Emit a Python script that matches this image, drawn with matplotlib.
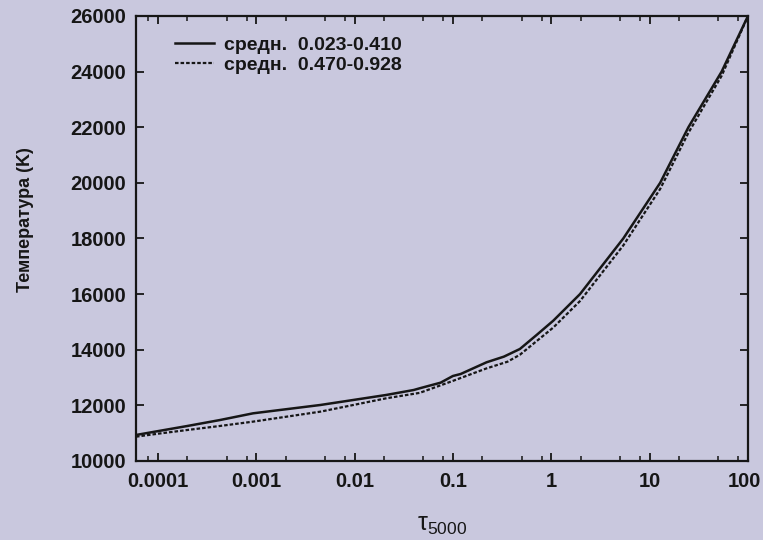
import matplotlib
matplotlib.use("Agg")
import matplotlib.pyplot as plt
from matplotlib.ticker import FixedLocator, NullFormatter
import matplotlib.transforms as mtransforms

# ---- data ----
tau_solid = [6e-5, 1e-4, 2e-4, 4.3e-4, 9.3e-4, 4.5e-3, 0.021, 0.040, 0.046, 0.075,
             0.10, 0.12, 0.22, 0.33, 0.48, 0.71, 1.05, 1.96, 5.4, 12.8, 24.8, 54.0, 100.0]
T_solid = [10935, 11073, 11259, 11474, 11714, 12014, 12374, 12553, 12614, 12816,
           13056, 13128, 13549, 13752, 14027, 14531, 15046, 16000, 18000, 20000,
           22000, 24000, 26000]

tau_dash = [6e-5, 1e-4, 2e-4, 4.3e-4, 9.3e-4, 4.5e-3, 0.021, 0.046, 0.10, 0.22,
            0.36, 0.48, 1.05, 1.96, 5.4, 12.8, 24.8, 54.0, 100.0]
T_dash = [10874, 10980, 11115, 11260, 11415, 11774, 12254, 12450, 12880, 13330,
          13571, 13820, 14800, 15750, 17750, 19780, 21800, 23850, 26000]

label_solid = "средн.  0.023-0.410"
label_dash = "средн.  0.470-0.928"

x_ticks = [1e-4, 1e-3, 1e-2, 1e-1, 1, 10, 100]
x_tick_labels = ["0.0001", "0.001", "0.01", "0.1", "1", "10", "100"]
y_ticks = [10000, 12000, 14000, 16000, 18000, 20000, 22000, 24000, 26000]

# ---- style ----
bg = "#c9c8de"
ink = "#161616"
plt.rcParams['font.family'] = ['Liberation Sans', 'DejaVu Sans']

fig = plt.figure(figsize=(7.63, 5.40), dpi=100, facecolor=bg)
ax = fig.add_axes([0.1782, 0.1463, 0.8021, 0.8241], facecolor=bg)

ax.plot(tau_solid, T_solid, color=ink, lw=1.8, linestyle='-', label=label_solid)
ax.plot(tau_dash, T_dash, color=ink, lw=1.6, linestyle=(0, (1.6, 0.9)), label=label_dash)

ax.set_xscale('log')
ax.set_xlim(6e-5, 100)
ax.set_ylim(10000, 26000)

ax.xaxis.set_major_locator(FixedLocator(x_ticks))
ax.set_xticklabels(x_tick_labels)
minor = []
for d in range(-5, 2):
    for m in (2, 5, 8):
        minor.append(m * 10.0 ** d)
ax.xaxis.set_minor_locator(FixedLocator(minor))
ax.xaxis.set_minor_formatter(NullFormatter())
ax.set_yticks(y_ticks)
ax.set_yticklabels([str(v) for v in y_ticks])

for sp in ax.spines.values():
    sp.set_color(ink)
    sp.set_linewidth(1.6)

ax.tick_params(axis='both', which='major', direction='in', length=6, width=1.3,
               top=True, right=True, colors=ink, labelsize=14.5)
ax.tick_params(axis='both', which='minor', direction='in', length=3.5, width=1.1,
               top=True, right=True, colors=ink)
ax.tick_params(axis='x', which='major', pad=8)
ax.tick_params(axis='y', which='major', pad=7)
for lab in ax.get_xticklabels() + ax.get_yticklabels():
    lab.set_fontweight('bold')

# keep the last x label inside the picture
last = ax.get_xticklabels()[-1]
last.set_transform(last.get_transform() +
                   mtransforms.ScaledTranslation(-4 / 100, 0, fig.dpi_scale_trans))

ax.set_ylabel("Температура (K)", fontsize=13, fontweight='bold', color=ink)
ax.yaxis.set_label_coords(-0.166, 0.542)
ax.set_xlabel(r"$\mathregular{\tau_{5000}}$", fontsize=18, color=ink, labelpad=16)

leg = ax.legend(loc='upper left', bbox_to_anchor=(0.045, 0.98), frameon=False,
                fontsize=14, handlelength=2.0, handletextpad=0.5,
                labelspacing=0.12, borderaxespad=0.2)
for t in leg.get_texts():
    t.set_fontweight('bold')
    t.set_color(ink)

fig.savefig("out.png", dpi=100, facecolor=bg)
